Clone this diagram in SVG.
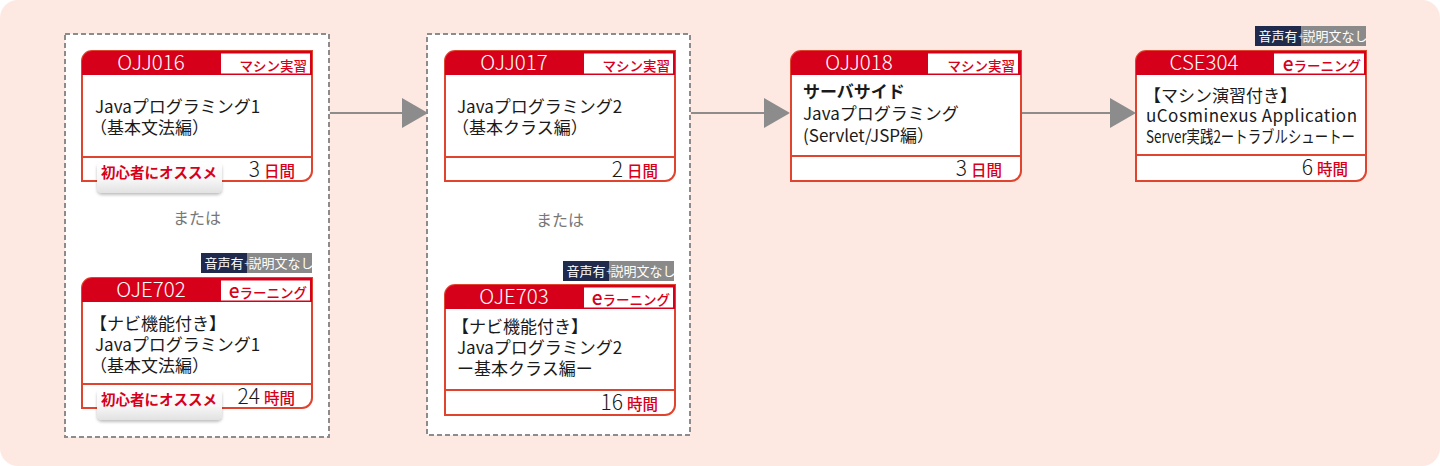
<svg xmlns="http://www.w3.org/2000/svg" width="1440" height="466" viewBox="0 0 1440 466">
<style>
text{font-family:"Noto Sans CJK JP","Noto Sans",sans-serif}
.card{fill:#fff;stroke:#e0442e;stroke-width:2}
.hdr{fill:#d7001b}
.lbl{fill:#fff}
.div{stroke:#e0442e;stroke-width:2}
.code{fill:#fff;font-size:20.5px;text-anchor:middle;font-weight:300}
.type{fill:#d7001b;font-size:13.5px;font-weight:500;text-anchor:end}
.body{fill:#1a1a1a;font-size:17px}
.dur{font-size:15.5px;text-anchor:end;font-weight:500}
.num{fill:#1a1a1a;font-size:21px;font-weight:300}
.unit{fill:#d7001b}
.tabt{fill:#d7001b;font-size:14.5px;font-weight:700;text-anchor:middle}
.grp{fill:#fff;stroke:#8c8c8c;stroke-width:2;stroke-dasharray:5 3}
.or{fill:#777;font-size:16px;text-anchor:middle}
.bdg{fill:#fff;font-size:13px}
.conn line{stroke:#8c8c8c;stroke-width:2}
.conn polygon{fill:#8c8c8c}
</style>
<defs>
<path id="cardShape" d="M0,10 A10,10 0 0 1 10,0 H230 V120 A10,10 0 0 1 220,130 H0 Z"/>
<path id="hdrShape" d="M0,24 V10 A10,10 0 0 1 10,0 H230 V24 Z"/>
<linearGradient id="tabg" x1="0" y1="0" x2="0" y2="1">
<stop offset="0" stop-color="#ffffff"/>
<stop offset="0.55" stop-color="#f7f7f7"/>
<stop offset="1" stop-color="#e2e2e2"/>
</linearGradient>
<filter id="sh" x="-10%" y="-20%" width="120%" height="160%">
<feDropShadow dx="0" dy="2" stdDeviation="1.5" flood-color="#000" flood-opacity="0.25"/>
</filter>
<g id="badge">
<rect x="0" y="0" width="47" height="20" fill="#1f2a4d"/>
<rect x="46" y="0" width="65" height="20" fill="#8a8a8a"/>
<text class="bdg" x="23" y="15" text-anchor="middle">音声有</text>
<text x="46" y="14" font-size="10" fill="#ddd" text-anchor="middle">+</text>
<text class="bdg" x="80" y="15" text-anchor="middle">説明文なし</text>
</g>
<g id="tab">
<rect x="15" y="111" width="125" height="31" rx="5" fill="url(#tabg)" filter="url(#sh)"/>
<text class="tabt" x="77" y="127">初心者にオススメ</text>
</g>
</defs>

<rect x="0" y="0" width="1440" height="466" rx="18" fill="#fde9e2"/>

<g id="group1"><rect class="grp" x="65" y="34" width="264" height="403"/></g>
<g id="group2"><rect class="grp" x="427" y="34" width="263" height="401"/></g>

<g id="or1"><text class="or" x="197" y="224">または</text></g>
<g id="or2"><text class="or" x="560" y="226">または</text></g>

<g class="conn" id="connectors">
<line x1="330" y1="113" x2="404" y2="113"/>
<polygon points="402,98 428,113 402,128"/>
<line x1="691" y1="113" x2="766" y2="113"/>
<polygon points="764,98 790,113 764,128"/>
<line x1="1021" y1="113" x2="1112" y2="113"/>
<polygon points="1110,98 1136,113 1110,128"/>
</g>

<g id="OJJ016" transform="translate(82,51)">
<use href="#cardShape" class="card"/>
<use href="#hdrShape" class="hdr"/>
<rect class="lbl" x="139" y="2.5" width="89" height="20"/>
<line class="div" x1="0" y1="106" x2="230" y2="106"/>
<text class="code" x="69" y="19">OJJ016</text>
<text class="type" x="225" y="19.5">マシン実習</text>
<text class="body" x="13" y="62">Javaプログラミング1</text>
<text class="body" x="8" y="83">（基本文法編）</text>
<text class="dur" x="213" y="126"><tspan class="num">3</tspan><tspan class="unit" dx="4">日間</tspan></text>
<use href="#tab"/>
</g>

<g id="OJE702" transform="translate(82,278)">
<use href="#badge" x="119" y="-25"/>
<use href="#cardShape" class="card"/>
<use href="#hdrShape" class="hdr"/>
<rect class="lbl" x="139" y="2.5" width="89" height="20"/>
<line class="div" x1="0" y1="106" x2="230" y2="106"/>
<text class="code" x="69" y="19">OJE702</text>
<text class="type" x="225" y="19.5"><tspan font-size="19">e</tspan>ラーニング</text>
<text class="body" x="8" y="52">【ナビ機能付き】</text>
<text class="body" x="13" y="73">Javaプログラミング1</text>
<text class="body" x="8" y="94">（基本文法編）</text>
<text class="dur" x="213" y="126"><tspan class="num">24</tspan><tspan class="unit" dx="4">時間</tspan></text>
<use href="#tab"/>
</g>

<g id="OJJ017" transform="translate(445,51)">
<use href="#cardShape" class="card"/>
<use href="#hdrShape" class="hdr"/>
<rect class="lbl" x="139" y="2.5" width="89" height="20"/>
<line class="div" x1="0" y1="106" x2="230" y2="106"/>
<text class="code" x="69" y="19">OJJ017</text>
<text class="type" x="225" y="19.5">マシン実習</text>
<text class="body" x="12" y="62">Javaプログラミング2</text>
<text class="body" x="7" y="83">（基本クラス編）</text>
<text class="dur" x="213" y="126"><tspan class="num">2</tspan><tspan class="unit" dx="4">日間</tspan></text>
</g>

<g id="OJE703" transform="translate(445,285)">
<use href="#badge" x="118" y="-24"/>
<use href="#cardShape" class="card"/>
<use href="#hdrShape" class="hdr"/>
<rect class="lbl" x="139" y="2.5" width="89" height="20"/>
<line class="div" x1="0" y1="105" x2="230" y2="105"/>
<text class="code" x="69" y="19">OJE703</text>
<text class="type" x="225" y="19.5"><tspan font-size="19">e</tspan>ラーニング</text>
<text class="body" x="7" y="48">【ナビ機能付き】</text>
<text class="body" x="12" y="69">Javaプログラミング2</text>
<text class="body" x="12" y="90">ー基本クラス編ー</text>
<text class="dur" x="213" y="125"><tspan class="num">16</tspan><tspan class="unit" dx="4">時間</tspan></text>
</g>

<g id="OJJ018" transform="translate(791,51)">
<use href="#cardShape" class="card"/>
<use href="#hdrShape" class="hdr"/>
<rect class="lbl" x="137" y="2.5" width="90" height="20"/>
<line class="div" x1="0" y1="105" x2="230" y2="105"/>
<text class="code" x="68" y="19">OJJ018</text>
<text class="type" x="224" y="19.5">マシン実習</text>
<text class="body" x="12" y="47" font-weight="700">サーバサイド</text>
<text class="body" x="12" y="69">Javaプログラミング</text>
<text class="body" x="12" y="91">(Servlet/JSP編）</text>
<text class="dur" x="211" y="125"><tspan class="num">3</tspan><tspan class="unit" dx="4">日間</tspan></text>
</g>

<g id="CSE304" transform="translate(1136,51)">
<use href="#badge" x="119" y="-25"/>
<use href="#cardShape" class="card"/>
<use href="#hdrShape" class="hdr"/>
<rect class="lbl" x="138" y="2.5" width="90" height="20"/>
<line class="div" x1="0" y1="104" x2="230" y2="104"/>
<text class="code" x="68" y="19">CSE304</text>
<text class="type" x="225" y="19.5"><tspan font-size="19">e</tspan>ラーニング</text>
<text class="body" x="8" y="51">【マシン演習付き】</text>
<text class="body" x="10" y="71" textLength="211" lengthAdjust="spacing">uCosminexus Application</text>
<text class="body" x="10" y="92" textLength="209" lengthAdjust="spacingAndGlyphs">Server実践2ートラブルシュートー</text>
<text class="dur" x="212" y="124"><tspan class="num">6</tspan><tspan class="unit" dx="4">時間</tspan></text>
</g>
</svg>
